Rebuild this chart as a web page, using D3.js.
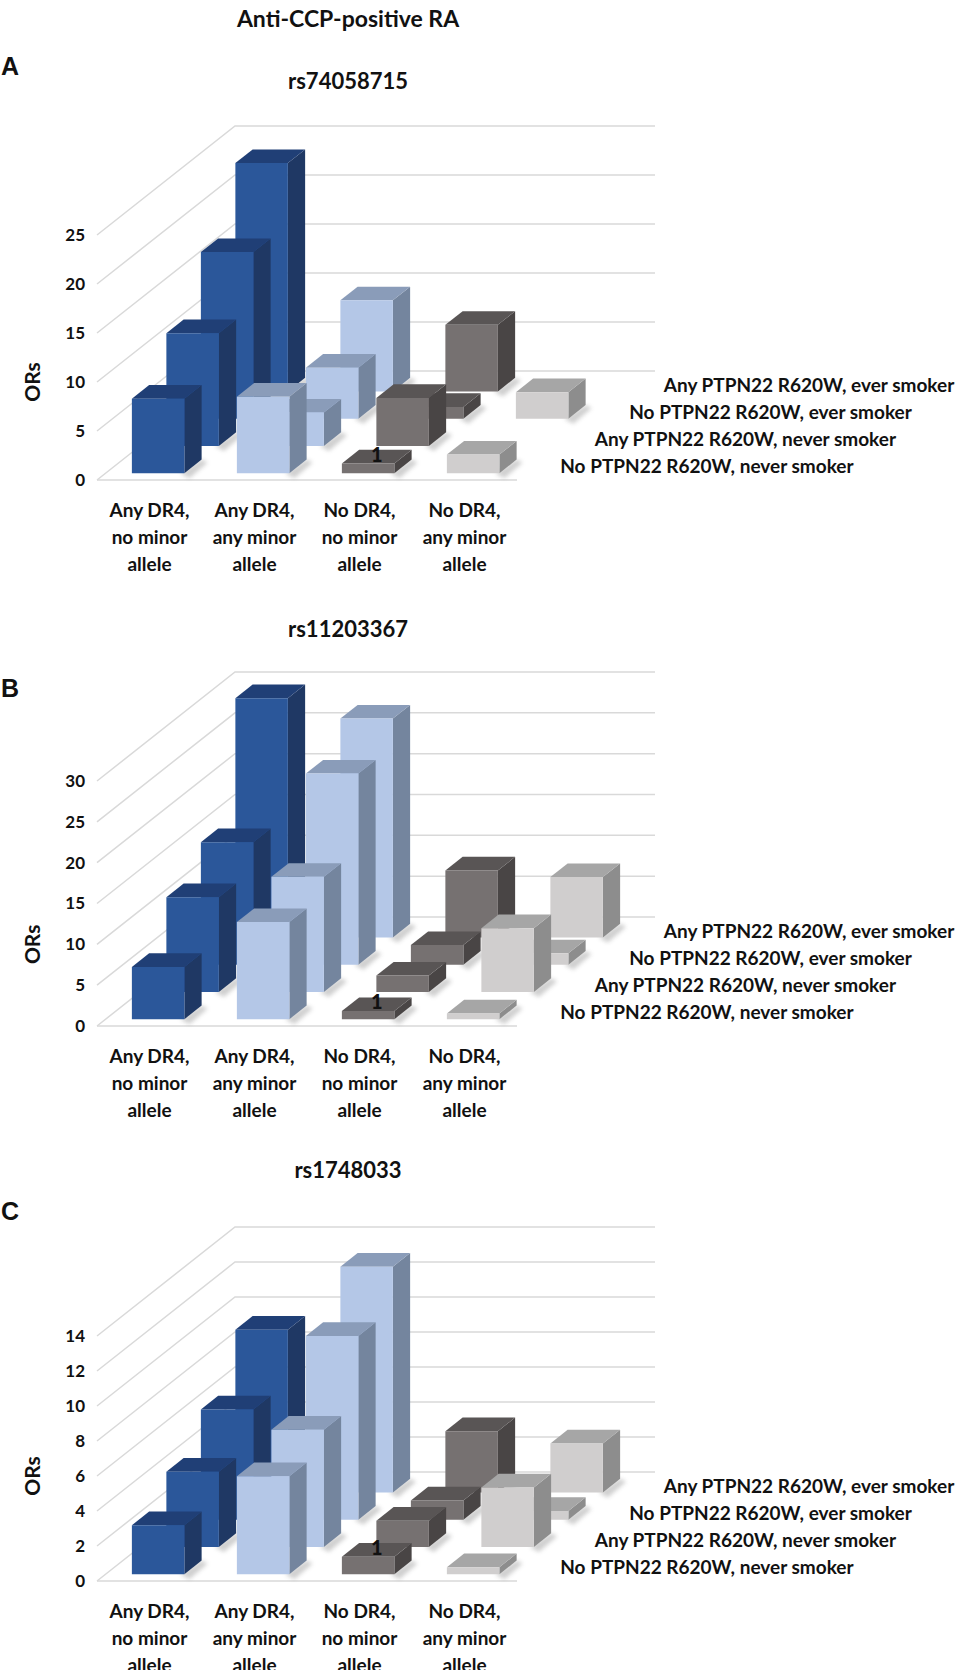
<!DOCTYPE html>
<html><head><meta charset="utf-8">
<script src="https://cdn.jsdelivr.net/npm/d3@7"></script>
<style>
html,body{margin:0;padding:0;background:#fff;}
svg{display:block;}
text{font-family:Lato,"Open Sans",sans-serif;font-weight:bold;fill:#111;}
</style></head><body>
<svg id="chart" width="966" height="1670"></svg>
<script>
// ---------- data ----------
const mainTitle = "Anti-CCP-positive RA";
const categories = [
  ["Any DR4,","no minor","allele"],
  ["Any DR4,","any minor","allele"],
  ["No DR4,","no minor","allele"],
  ["No DR4,","any minor","allele"]
];
// depth series, front to back
const seriesNames = [
  "No PTPN22 R620W, never smoker",
  "Any PTPN22 R620W, never smoker",
  "No PTPN22 R620W, ever smoker",
  "Any PTPN22 R620W, ever smoker"
];
const snpTitles = ["rs74058715","rs11203367","rs1748033"];
const panelLetters = ["A","B","C"];
const ticksA = [0,5,10,15,20,25];
const ticksB = [0,5,10,15,20,25,30];
const ticksC = [0,2,4,6,8,10,12,14];
// ORs per category for each series (null = no bar)
const orsA_noPtpnNever  = [7.6, 7.8, 1, 1.9];
const orsA_anyPtpnNever = [11.5, 3.4, 4.9, null];
const orsA_noPtpnEver   = [17.0, 5.2, 1.2, 2.7];
const orsA_anyPtpnEver  = [23.3, 9.3, 6.8, null];
const orsB_noPtpnNever  = [6.4, 11.9, 1, 0.7];
const orsB_anyPtpnNever = [11.6, 14.1, 2.0, 7.8];
const orsB_noPtpnEver   = [15.0, 23.4, 2.4, 1.4];
const orsB_anyPtpnEver  = [29.3, 26.8, 8.2, 7.4];
const orsC_noPtpnNever  = [2.8, 5.6, 1, 0.4];
const orsC_anyPtpnNever = [4.3, 6.7, 1.5, 3.4];
const orsC_noPtpnEver   = [6.3, 10.5, 1.1, 0.5];
const orsC_anyPtpnEver  = [9.3, 12.9, 3.5, 2.8];
const referenceLabel = "1";

const panels = [
  {title:snpTitles[0], letter:panelLetters[0], ticks:ticksA,
   series:[orsA_noPtpnNever,orsA_anyPtpnNever,orsA_noPtpnEver,orsA_anyPtpnEver]},
  {title:snpTitles[1], letter:panelLetters[1], ticks:ticksB,
   series:[orsB_noPtpnNever,orsB_anyPtpnNever,orsB_noPtpnEver,orsB_anyPtpnEver]},
  {title:snpTitles[2], letter:panelLetters[2], ticks:ticksC,
   series:[orsC_noPtpnNever,orsC_anyPtpnNever,orsC_noPtpnEver,orsC_anyPtpnEver]}
];

// ---------- layout / style ----------
const layout = [
  {floor:480, title:89, letter:75},
  {floor:1026, title:637, letter:697},
  {floor:1581, title:1178, letter:1220}
];
const X0 = 97, W = 420, DX = 138, DY = -109, H = 245;
const catColors = [
  {front:"#2b579a", top:"#203f76", side:"#1f3864"},
  {front:"#b4c7e7", top:"#8a9cb9", side:"#74859e"},
  {front:"#767171", top:"#595555", side:"#494545"},
  {front:"#d0cece", top:"#a6a6a6", side:"#8d8d8d"}
];
const gridColor = "#d9d9d9";

const svg = d3.select("#chart");
const defs = svg.append("defs");
defs.append("filter").attr("id","blurShadow")
  .attr("x","-50%").attr("y","-50%").attr("width","200%").attr("height","200%")
  .append("feGaussianBlur").attr("stdDeviation",2);

svg.append("text").attr("x",348).attr("y",27).attr("text-anchor","middle")
  .style("font-size","23px").text(mainTitle);

const xScale = d3.scaleBand().domain(d3.range(categories.length))
  .range([X0, X0+W]).paddingInner(0.5).paddingOuter(0.25);
const zScale = d3.scaleBand().domain(d3.range(seriesNames.length))
  .range([0,1]).paddingInner(0.5).paddingOuter(0.25);

panels.forEach((p, pi) => {
  const L = layout[pi];
  const g = svg.append("g");
  const maxV = d3.max(p.ticks);
  const yScale = d3.scaleLinear().domain([0,maxV]).range([0,H]);
  const proj = (x,z,v) => [x + z*DX, L.floor + z*DY - yScale(v)];
  const line = pts => "M" + pts.map(q => q.join(",")).join("L");
  const poly = pts => line(pts) + "Z";

  // titles
  g.append("text").attr("x",348).attr("y",L.title).attr("text-anchor","middle")
    .style("font-size","22px").text(p.title);
  g.append("text").attr("x",1).attr("y",L.letter)
    .style("font-family","'Liberation Sans',Arial,sans-serif").style("font-size","25px").text(p.letter);

  // gridlines on walls
  g.selectAll("path.grid").data(p.ticks).join("path").attr("class","grid")
    .attr("d", t => line([proj(X0,0,t), proj(X0,1,t), proj(X0+W,1,t)]))
    .attr("fill","none").attr("stroke",gridColor).attr("stroke-width",1.5);
  g.append("path").attr("d", line([proj(X0,0,0), proj(X0+W,0,0)]))
    .attr("fill","none").attr("stroke",gridColor).attr("stroke-width",1.5);

  // y axis labels
  const yPos = d3.scaleLinear().domain([0,maxV]).range([L.floor, L.floor - H]);
  const ax = g.append("g").attr("transform",`translate(${X0-12},0)`)
    .call(d3.axisLeft(yPos).tickValues(p.ticks).tickSize(0).tickPadding(0).tickFormat(d3.format("d")));
  ax.select(".domain").remove();
  ax.selectAll("text").style("font-family","Lato,sans-serif").style("font-weight","bold")
    .style("font-size","17px").attr("fill","#111");

  const orsTick = p.ticks[Math.floor(p.ticks.length/2)-1] ;
  g.append("text").attr("transform",`translate(40,${yPos(orsTick)}) rotate(-90)`)
    .attr("text-anchor","middle").style("font-size","21px").text("ORs");

  // bars, back row first
  const bw = xScale.bandwidth(), zb = zScale.bandwidth();
  for (let k = seriesNames.length-1; k >= 0; k--) {
    const vals = p.series[k];
    const z1 = zScale(k), z2 = z1 + zb;
    const items = vals.map((v,i) => ({v,i})).filter(d => d.v !== null);
    // soft shadows on floor
    g.selectAll(null).data(items).join("path")
      .attr("d", d => {
        const x2 = xScale(d.i) + bw;
        const a = proj(x2,z1,0), b = proj(x2,z2,0);
        return poly([[a[0]-4,a[1]], b, [b[0]+6,b[1]+3], [a[0]+5,a[1]+5]]);
      })
      .attr("fill","#777").attr("opacity",0.35).attr("filter","url(#blurShadow)");
    const bars = g.selectAll(null).data(items).join("g");
    bars.append("path").attr("d", d => { const x1=xScale(d.i), x2=x1+bw;
        return poly([proj(x2,z1,0),proj(x2,z2,0),proj(x2,z2,d.v),proj(x2,z1,d.v)]); })
      .attr("fill", d => catColors[d.i].side);
    bars.append("path").attr("d", d => { const x1=xScale(d.i), x2=x1+bw;
        return poly([proj(x1,z1,d.v),proj(x2,z1,d.v),proj(x2,z2,d.v),proj(x1,z2,d.v)]); })
      .attr("fill", d => catColors[d.i].top);
    bars.append("path").attr("d", d => { const x1=xScale(d.i), x2=x1+bw;
        return poly([proj(x1,z1,0),proj(x2,z1,0),proj(x2,z1,d.v),proj(x1,z1,d.v)]); })
      .attr("fill", d => catColors[d.i].front);
  }

  // reference label "1" on front row, third category
  const refCat = 2, refRow = 0;
  const rv = p.series[refRow][refCat];
  const rp = proj(xScale(refCat) + bw/2, zScale(refRow) + zb/2, rv);
  g.append("text").attr("x", rp[0]).attr("y", rp[1] + 5).attr("text-anchor","middle")
    .style("font-size","20px").style("font-weight","900").text(referenceLabel);

  // category labels
  const cl = g.selectAll(null).data(categories).join("text")
    .attr("text-anchor","middle").style("font-size","19px")
    .attr("transform",(d,i) => `translate(${xScale(i)+bw/2},${L.floor+37})`);
  cl.selectAll("tspan").data(d => d).join("tspan")
    .attr("x",0).attr("dy",(d,j) => j===0 ? 0 : 27).text(d => d);

  // series labels along right floor edge
  g.selectAll(null).data(seriesNames).join("text")
    .attr("x",(d,k) => proj(X0+W, zScale(k)+zb/2, 0)[0] + 26)
    .attr("y",(d,k) => proj(X0+W, zScale(k)+zb/2, 0)[1] + 7)
    .style("font-size","19px").text(d => d);
});
</script>
</body></html>
